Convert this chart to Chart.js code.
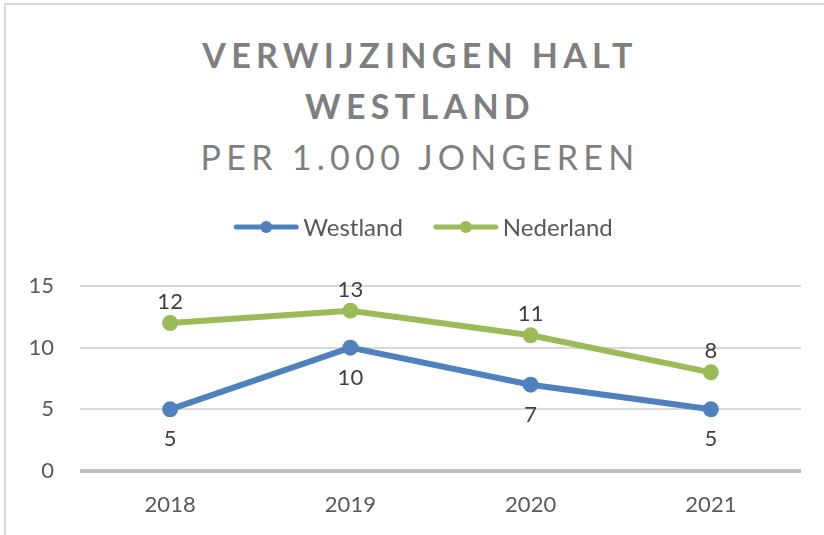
<!DOCTYPE html>
<html lang="nl">
<head>
<meta charset="utf-8">
<title>Verwijzingen HALT Westland</title>
<script src="https://cdn.jsdelivr.net/npm/chart.js@4.4.1/dist/chart.umd.min.js"></script>
<style>
  html, body { margin: 0; padding: 0; background: #fff; }
  body { width: 824px; height: 535px; position: relative; overflow: hidden; font-family: Lato, 'Open Sans', sans-serif; }
  .frame { position: absolute; left: 4px; top: 3px; width: 900px; height: 600px; border-top: 2px solid #d9d9d9; border-left: 2px solid #d9d9d9; }
  .title { position: absolute; left: 8px; width: 824px; text-align: center; color: #7f7f7f; font-size: 34px; line-height: 50px; letter-spacing: 5.3px; white-space: nowrap; }
  .title.bold { font-weight: 700; }
  #chart { position: absolute; left: 0; top: 0; }
</style>
</head>
<body>
<div class="frame"></div>
<div class="title bold" style="top:30px">VERWIJZINGEN HALT</div>
<div class="title bold" style="top:81px">WESTLAND</div>
<div class="title" style="top:132px">PER 1.000 JONGEREN</div>
<canvas id="chart" width="824" height="535"></canvas>
<script>
(function () {
  'use strict';

  // data
  const YEARS = ['2018', '2019', '2020', '2021'];
  const WESTLAND = [5, 10, 7, 5];
  const NEDERLAND = [12, 13, 11, 8];
  const Y_TICKS = [0, 5, 10, 15];

  const BLUE = '#4f81bd';
  const GREEN = '#9bbb59';
  const FONT = "Lato, 'Open Sans', sans-serif";

  // numbers above / below each point
  const valueLabels = {
    id: 'valueLabels',
    afterDatasetsDraw(chart, args, opts) {
      const ctx = chart.ctx;
      ctx.save();
      ctx.font = opts.size + 'px ' + FONT;
      ctx.fillStyle = opts.color;
      ctx.textAlign = 'center';
      ctx.textBaseline = 'middle';
      chart.data.datasets.forEach(function (ds, i) {
        const off = ds.labelSide === 'above' ? opts.above : opts.below;
        chart.getDatasetMeta(i).data.forEach(function (pt, j) {
          ctx.fillText(String(ds.data[j]), pt.x, pt.y + off);
        });
      });
      ctx.restore();
    }
  };

  // excel-style legend: line with marker, then label
  const lineLegend = {
    id: 'lineLegend',
    afterDraw(chart, args, opts) {
      const ctx = chart.ctx;
      ctx.save();
      ctx.font = opts.size + 'px ' + FONT;
      const items = chart.data.datasets.map(function (ds) {
        return { ds: ds, w: opts.lineLen + opts.textGap + ctx.measureText(ds.label).width };
      });
      const total = items.reduce(function (s, it) { return s + it.w; }, 0) + opts.itemGap * (items.length - 1);
      let x = opts.centerX - total / 2;
      const y = opts.y;
      items.forEach(function (it) {
        ctx.strokeStyle = it.ds.borderColor;
        ctx.lineWidth = 5;
        ctx.lineCap = 'round';
        ctx.beginPath();
        ctx.moveTo(x + 3, y);
        ctx.lineTo(x + opts.lineLen - 3, y);
        ctx.stroke();
        ctx.fillStyle = it.ds.borderColor;
        ctx.beginPath();
        ctx.arc(x + opts.lineLen / 2, y, opts.dot, 0, Math.PI * 2);
        ctx.fill();
        ctx.fillStyle = opts.color;
        ctx.textAlign = 'left';
        ctx.textBaseline = 'middle';
        ctx.fillText(it.ds.label, x + opts.lineLen + opts.textGap, y + 1);
        x += it.w + opts.itemGap;
      });
      ctx.restore();
    }
  };

  new Chart(document.getElementById('chart'), {
    type: 'line',
    data: {
      labels: YEARS,
      datasets: [
        {
          label: 'Westland',
          data: WESTLAND,
          borderColor: BLUE,
          backgroundColor: BLUE,
          borderWidth: 6,
          pointRadius: 7,
          pointBorderWidth: 2,
          labelSide: 'below',
        },
        {
          label: 'Nederland',
          data: NEDERLAND,
          borderColor: GREEN,
          backgroundColor: GREEN,
          borderWidth: 6,
          pointRadius: 7,
          pointBorderWidth: 2,
          labelSide: 'above',
        },
      ],
    },
    plugins: [valueLabels, lineLegend],
    options: {
      responsive: false,
      animation: false,
      layout: { padding: { top: 286, right: 23, bottom: 12, left: 0 } },
      plugins: {
        legend: { display: false },
        tooltip: { enabled: false },
        valueLabels: { size: 22, color: '#404040', above: -21, below: 30 },
        lineLegend: { size: 24, color: '#595959', centerX: 423, y: 227, lineLen: 66, textGap: 4, itemGap: 30, dot: 6 },
      },
      scales: {
        x: {
          offset: true,
          afterFit: function (scale) { scale.height = 52; },
          grid: { display: false, drawTicks: false },
          border: { display: false },
          ticks: { color: '#595959', padding: 21, font: { family: FONT, size: 22 } },
        },
        y: {
          min: Y_TICKS[0],
          max: Y_TICKS[Y_TICKS.length - 1],
          afterFit: function (scale) { scale.width = 80; },
          afterBuildTicks: function (scale) { scale.ticks = Y_TICKS.map(function (v) { return { value: v }; }); },
          border: { display: false },
          grid: {
            drawTicks: false,
            color: function (c) { return c.tick && c.tick.value === 0 ? '#bfbfbf' : '#d9d9d9'; },
            lineWidth: function (c) { return c.tick && c.tick.value === 0 ? 4 : 2; },
          },
          ticks: { color: '#595959', padding: 26, font: { family: FONT, size: 22 } },
        },
      },
    },
  });
})();
</script>
</body>
</html>
